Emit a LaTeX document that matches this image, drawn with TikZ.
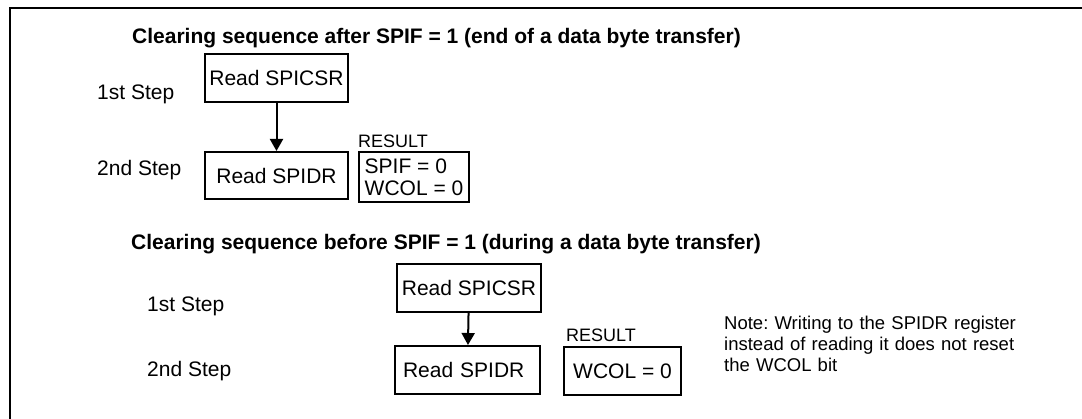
\documentclass[tikz,border=0pt]{standalone}
\usepackage{fontspec}
\setmainfont{Liberation Sans}
\usetikzlibrary{arrows.meta}
\frenchspacing
\tikzset{
  frame/.style={line width=2.5pt},
  box/.style={draw, line width=2pt, minimum height=48pt, inner sep=0pt, anchor=north west, font=\fontsize{21}{22}\selectfont},
  lbl/.style={anchor=base west, inner sep=0pt, font=\fontsize{21}{22}\selectfont},
  head/.style={anchor=base west, inner sep=0pt, font=\fontsize{21}{22}\selectfont\bfseries},
  small/.style={anchor=base west, inner sep=0pt, font=\fontsize{18}{21}\selectfont},
  flow/.style={line width=2pt, -{Triangle[width=13pt,length=12pt]}},
}
\begin{document}
\begin{tikzpicture}[x=1pt,y=1pt]
\useasboundingbox (0,0) rectangle (1082,-419);
\draw[frame] (1082,-8) -- (10,-8) -- (10,-419);

% section 1
\node[head] (h1) at (132,-44) {Clearing sequence after SPIF = 1 (end of a data byte transfer)};
\node[lbl] (s11) at (97,-100) {1st Step};
\node[lbl] (s12) at (97,-176) {2nd Step};
\node[box, minimum width=143pt] (c1) at (204,-53) {Read SPICSR};
\node[box, minimum width=143pt, minimum height=47pt] (d1) at (204,-151) {Read SPIDR};
\node[small] (rl1) at (358,-148) {RESULT};
\node[box, minimum width=110pt, minimum height=50pt, inner xsep=5pt, align=left] (r1) at (358,-151) {SPIF = 0\\WCOL = 0};
\draw[flow] (c1) -- (d1);

% section 2
\node[head] (h2) at (131,-250) {Clearing sequence before SPIF = 1 (during a data byte transfer)};
\node[lbl] (s21) at (147,-311.5) {1st Step};
\node[lbl] (s22) at (147,-376.5) {2nd Step};
\node[box, minimum width=144pt] (c2) at (396,-263) {Read SPICSR};
\node[box, minimum width=145pt, text width=129pt, inner xsep=8pt, align=left] (d2) at (394,-345) {Read SPIDR};
\node[small] (rl2) at (566,-342) {RESULT};
\node[box, minimum width=117pt] (r2) at (563,-346) {WCOL = 0};
\draw[flow] (c2) -- (d2);
\node[small, text width=300pt, align=left, font=\fontsize{18.5}{21}\selectfont] (note) at (724,-330) {Note: Writing to the SPIDR register\\instead of reading it does not reset\\the WCOL bit};
\end{tikzpicture}
\end{document}
